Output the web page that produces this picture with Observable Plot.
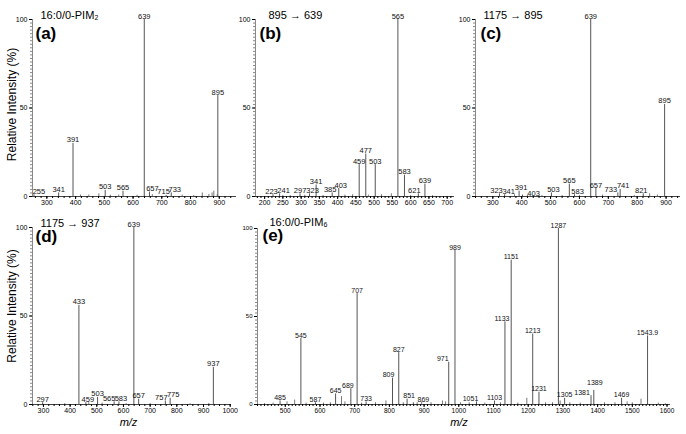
<!DOCTYPE html>
<html><head><meta charset="utf-8">
<script src="https://cdn.jsdelivr.net/npm/d3@7"></script>
<script src="https://cdn.jsdelivr.net/npm/@observablehq/plot@0.6"></script>
<style>
body{margin:0;background:#fff;}
#chart{position:relative;width:686px;height:434px;font-family:"Liberation Sans",Arial,sans-serif;}
#chart svg{position:absolute;}
</style></head><body><div id="chart"></div>
<script>
// ---------- DATA ----------
// (a) 16:0/0-PIM2
const aTitle = "16:0/0-PIM₂", aTag = "(a)";
const aMz = [255, 341, 391, 503, 565, 639, 657, 715, 733, 895];
const aInt = [1, 2, 30, 3.5, 3, 100, 2.5, 0.6, 2, 57];
const aLabels = ["255","341","391","503","565","639","657","715","733","895"];
const aMinorMz = [417, 446, 481, 521, 550, 614, 667, 771, 811, 841, 864, 875, 881, 893];
const aMinorInt = [0.8, 0.8, 1.5, 0.7, 0.8, 0.7, 1, 0.8, 0.6, 2, 1.2, 2, 3, 1];
const aTicks = [300, 400, 500, 600, 700, 800, 900];

// (b) 895 -> 639
const bTitle = "895 → 639", bTag = "(b)";
const bMz = [223, 241, 297, 323, 341, 385, 403, 459, 477, 503, 565, 583, 621, 639];
const bInt = [1, 1.5, 1.5, 1.5, 6.5, 2, 4.5, 18, 24, 18, 100, 12, 1.5, 7];
const bLabels = ["223","241","297","323","341","385","403","459","477","503","565","583","621","639"];
const bMinorMz = [250, 270, 310, 360, 420, 441, 485, 520, 547, 600, 660];
const bMinorInt = [0.5, 0.5, 0.7, 0.6, 0.8, 1, 0.8, 1, 1.5, 0.6, 0.5];
const bTicks = [200, 250, 300, 350, 400, 450, 500, 550, 600, 650, 700];

// (c) 1175 -> 895
const cTitle = "1175 → 895", cTag = "(c)";
const cMz = [323, 341, 391, 403, 503, 565, 583, 639, 657, 733, 741, 821, 895];
const cInt = [1.5, 1, 3, 0.8, 2, 7, 1, 100, 4.5, 2, 4, 1.5, 52];
const cLabels = ["323","341","391","403","503","565","583","639","657","733","741","821","895"];
const cMinorMz = [375, 420, 470, 540, 600, 680, 790, 843, 870];
const cMinorInt = [1, 0.5, 0.5, 0.6, 0.5, 0.8, 0.5, 1.5, 0.8];
const cTicks = [300, 400, 500, 600, 700, 800, 900];

// (d) 1175 -> 937
const dTitle = "1175 → 937", dTag = "(d)";
const dMz = [297, 433, 459, 503, 565, 583, 639, 657, 757, 775, 937];
const dInt = [1, 56, 1, 4, 1.5, 1.5, 100, 3, 2, 3.5, 21];
const dLabels = ["297","433","459","503","565","583","639","657","757","775","937"];
const dMinorMz = [380, 470, 520, 610, 700, 850, 920];
const dMinorInt = [0.5, 1, 0.8, 0.5, 0.5, 0.4, 0.6];
const dTicks = [300, 400, 500, 600, 700, 800, 900, 1000];

// (e) 16:0/0-PIM6
const eTitle = "16:0/0-PIM₆", eTag = "(e)";
const eMz = [485, 545, 587, 645, 689, 707, 733, 809, 827, 851, 869, 971, 989, 1051, 1103, 1133, 1151, 1213, 1231, 1287, 1305, 1381, 1389, 1469, 1543.9];
const eInt = [2, 37.5, 1, 6, 9, 63, 1.5, 15, 29.5, 3, 1, 24, 87.5, 1.5, 2, 47, 82, 40, 7, 100, 3.5, 5, 8, 3.5, 39];
const eLabels = ["485","545","587","645","689","707","733","809","827","851","869","971","989","1051","1103","1133","1151","1213","1231","1287","1305","1381","1389","1469","1543.9"];
const eMinorMz = [440, 465, 505, 527, 560, 610, 630, 662, 672, 720, 760, 790, 840, 880, 893, 920, 953, 962, 1005, 1030, 1075, 1120, 1170, 1196, 1250, 1270, 1292, 1320, 1350, 1420, 1450, 1485, 1500, 1525, 1575, 1595];
const eMinorInt = [0.5, 0.8, 1.5, 2.5, 0.8, 0.8, 1, 4.5, 1.5, 0.8, 1, 2, 1, 1, 1.5, 1, 2, 1.5, 1, 1, 0.8, 1, 0.8, 3.5, 1, 1, 2, 1, 0.8, 1, 1, 1.5, 1, 3, 0.8, 0.5];
const eTicks = [500, 600, 700, 800, 900, 1000, 1100, 1200, 1300, 1400, 1500, 1600];

const yTitle = "Relative Intensity (%)";
const xTitle = "m/z";

// ---------- LAYOUT ----------
const panels = [
  {d:{title:aTitle, tag:aTag, mz:aMz, int:aInt, labels:aLabels, minorMz:aMinorMz, minorInt:aMinorInt, ticks:aTicks},
   L:{left:0, top:0, width:240, height:210, mt:19, mr:4, mb:14, ml:32, xDomain:[250,960], minorStep:20,
      title:[8,-4], tag:[3,14], yTitle:-3.5, fs:{tick:7, ytick:7, peak:7.5},
      nudge:{"255":[5,0], "657":[3,0], "715":[-2.5,0], "733":[3.5,0]}}},
  {d:{title:bTitle, tag:bTag, mz:bMz, int:bInt, labels:bLabels, minorMz:bMinorMz, minorInt:bMinorInt, ticks:bTicks},
   L:{left:220, top:0, width:240, height:210, mt:19, mr:6, mb:14, ml:35, xDomain:[175,720], minorStep:10,
      title:[13,-4], tag:[4,14], fs:{tick:7, ytick:7, peak:7.5},
      nudge:{"223":[-1.5,0], "241":[4,0], "297":[0,0], "323":[3,0], "385":[-2,0], "403":[2,0], "621":[-4,0]}}},
  {d:{title:cTitle, tag:cTag, mz:cMz, int:cInt, labels:cLabels, minorMz:cMinorMz, minorInt:cMinorInt, ticks:cTicks},
   L:{left:440, top:0, width:246, height:210, mt:19, mr:6, mb:14, ml:35, xDomain:[240,950], minorStep:20,
      title:[8,-4], tag:[5,14], fs:{tick:7, ytick:7, peak:7.5},
      nudge:{"323":[-3,0], "341":[4,0], "391":[2,0], "403":[11,-2], "503":[2,0], "583":[3,0], "733":[-7,0], "741":[3,0], "821":[-2,0]}}},
  {d:{title:dTitle, tag:dTag, mz:dMz, int:dInt, labels:dLabels, minorMz:dMinorMz, minorInt:dMinorInt, ticks:dTicks},
   L:{left:0, top:210, width:240, height:224, mt:17, mr:9, mb:30, ml:32, xDomain:[259,1005], minorStep:20,
      title:[8,-4], tag:[3,9.5], yTitle:-10, xTitle:[-3.5,21], fs:{tick:7, ytick:7, peak:7.5},
      nudge:{"459":[2,0], "565":[-5,0], "583":[2,0], "757":[-4,0], "775":[3,0]}}},
  {d:{title:eTitle, tag:eTag, mz:eMz, int:eInt, labels:eLabels, minorMz:eMinorMz, minorInt:eMinorInt, ticks:eTicks},
   L:{left:230, top:210, width:456, height:224, mt:18, mr:16, mb:30, ml:27, xDomain:[420,1610], minorStep:10,
      title:[12,-6], tag:[5,7.5], xTitle:[-5,21], fs:{tick:6.5, ytick:6, peak:7},
      nudge:{"689":[-3,0], "809":[-4,0], "851":[2,0], "869":[10,0], "971":[-6,0], "1051":[-6,0], "1133":[-3,0], "1381":[-9,0], "1389":[1,4]}}}
];

// ---------- DRAW ----------
const root = document.getElementById("chart");
for (const {d, L} of panels) {
  const plotW = L.width - L.ml - L.mr, plotH = L.height - L.mt - L.mb;
  const ux = (L.xDomain[1] - L.xDomain[0]) / plotW, uy = 100 / plotH;
  const peaks = d.mz.map((m, i) => ({mz: m, y: d.int[i], label: d.labels[i]}));
  const noise = d.minorMz.map((m, i) => ({mz: m, y: d.minorInt[i]}));
  const nud = L.nudge || {};
  const xMinor = d3.range(Math.ceil(L.xDomain[0] / L.minorStep) * L.minorStep, L.xDomain[1], L.minorStep);
  const marks = [
    Plot.ruleX(noise, {x: "mz", y1: 0, y2: "y", stroke: "#555", strokeWidth: 0.8}),
    Plot.ruleX(peaks, {x: "mz", y1: 0, y2: "y", stroke: "#555", strokeWidth: 1}),
    Plot.ruleY([0], {stroke: "#444"}),
    Plot.ruleX([L.xDomain[0]], {stroke: "#888"}),
    Plot.axisX({ticks: xMinor, tickSize: 2, tickFormat: () => "", label: null}),
    Plot.axisX({ticks: d.ticks, tickSize: 3, tickPadding: 0.5, fontSize: L.fs.tick, label: null, tickFormat: t => String(t)}),
    Plot.axisY({ticks: d3.range(0, 101, 2), tickSize: 2, tickFormat: () => "", label: null, stroke: "#888"}),
    Plot.axisY({ticks: [0, 50, 100], tickSize: 3, tickPadding: 2, fontSize: L.fs.ytick, label: null}),
    Plot.text(peaks, {
      x: p => p.mz + ((nud[p.label] || [0, 0])[0]) * ux,
      y: p => p.y + ((nud[p.label] || [0, 0])[1]) * uy,
      text: "label", lineAnchor: "bottom", dy: -1, fontSize: L.fs.peak, fill: "#111"
    }),
    Plot.text([d.title], {text: t => t, frameAnchor: "top-left", textAnchor: "start", lineAnchor: "middle",
      dx: L.title[0], dy: L.title[1], fontSize: 11}),
    Plot.text([d.tag], {text: t => t, frameAnchor: "top-left", textAnchor: "start", lineAnchor: "middle",
      dx: L.tag[0], dy: L.tag[1], fontSize: 17, fontWeight: "bold"})
  ];
  if (L.yTitle !== undefined) {
    marks.push(Plot.text([yTitle], {text: t => t, frameAnchor: "left", textAnchor: "middle", lineAnchor: "middle",
      rotate: -90, dx: -20, dy: L.yTitle, fontSize: 12}));
  }
  if (L.xTitle) {
    marks.push(Plot.text([xTitle], {text: t => t, frameAnchor: "bottom", textAnchor: "middle", dx: L.xTitle[0], dy: L.xTitle[1], fontSize: 11, fontStyle: "italic"}));
  }
  const svg = Plot.plot({
    width: L.width, height: L.height,
    marginTop: L.mt, marginRight: L.mr, marginBottom: L.mb, marginLeft: L.ml,
    style: {background: "transparent", overflow: "visible", fontFamily: "'Liberation Sans', Arial, sans-serif", maxWidth: "none"},
    x: {domain: L.xDomain},
    y: {domain: [0, 100]},
    marks
  });
  svg.style.left = L.left + "px";
  svg.style.top = L.top + "px";
  root.appendChild(svg);
}
</script>
</body></html>
